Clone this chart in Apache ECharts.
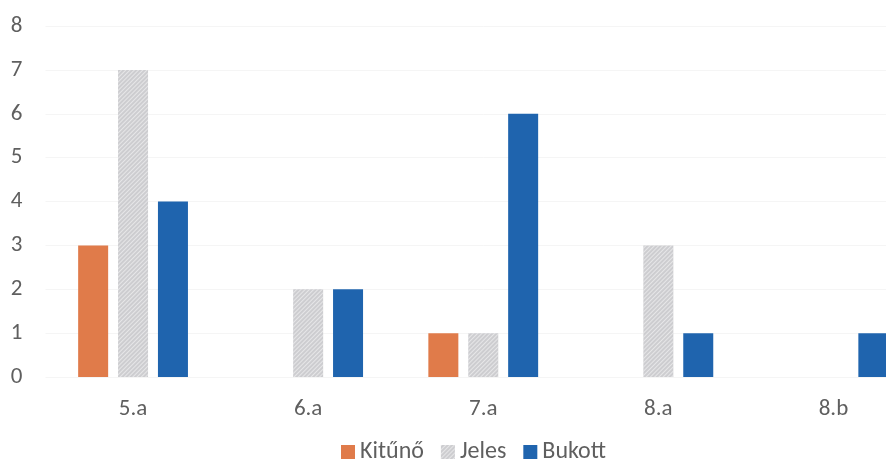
<!DOCTYPE html>
<html><head><meta charset="utf-8">
<script src="https://cdn.jsdelivr.net/npm/echarts@6/dist/echarts.min.js"></script>
<style>html,body{margin:0;padding:0;background:#fff;overflow:hidden;width:886px;height:467px}#c{width:921px;height:467px}</style>
</head><body><div id="c"></div>
<script>
const categories = ['5.a','6.a','7.a','8.a','8.b'];
const kitunoValues = [3,0,1,0,0];
const jelesValues = [7,2,1,3,0];
const bukottValues = [4,2,6,1,1];
const seriesNames = ['Kitűnő','Jeles','Bukott'];

const chart = echarts.init(document.getElementById('c'), null, {renderer:'canvas'});
const font = 'Calibri, Carlito, "Open Sans", "Noto Sans", sans-serif';
const jelesDecal = {symbol:'rect', color:'rgba(255,255,255,0.5)', dashArrayX:[1,0], dashArrayY:[1,2], rotation:-Math.PI/4, symbolSize:1};
chart.setOption({
  animation:false,
  backgroundColor:'#fff',
  grid:{left:45.5, right:0, top:26, bottom:90, containLabel:false},
  legend:{
    bottom:-2, left:336, itemWidth:14, itemHeight:14, itemGap:17,
    icon:'rect',
    textStyle:{fontFamily:font, fontSize:24, color:'#5f5f5f'},
    data:seriesNames
  },
  xAxis:{
    type:'category', data:categories,
    axisLine:{show:false}, axisTick:{show:false},
    axisLabel:{fontFamily:font, fontSize:23, color:'#5f5f5f', margin:21}
  },
  yAxis:{
    type:'value', min:0, max:8, interval:1,
    axisLine:{show:false}, axisTick:{show:false},
    axisLabel:{fontFamily:font, fontSize:23, color:'#5f5f5f', margin:23, align:'right'},
    splitLine:{lineStyle:{color:'#f5f5f5', width:1}}
  },
  series:[
    {name:seriesNames[0], type:'bar', data:kitunoValues, barWidth:30, barGap:'33%', itemStyle:{color:'#e07b4a'}},
    {name:seriesNames[1], type:'bar', data:jelesValues, barWidth:30, barGap:'33%', itemStyle:{color:'#cdcdd0', decal:jelesDecal}},
    {name:seriesNames[2], type:'bar', data:bukottValues, barWidth:30, barGap:'33%', itemStyle:{color:'#1f64ae'}}
  ]
});
</script></body></html>
